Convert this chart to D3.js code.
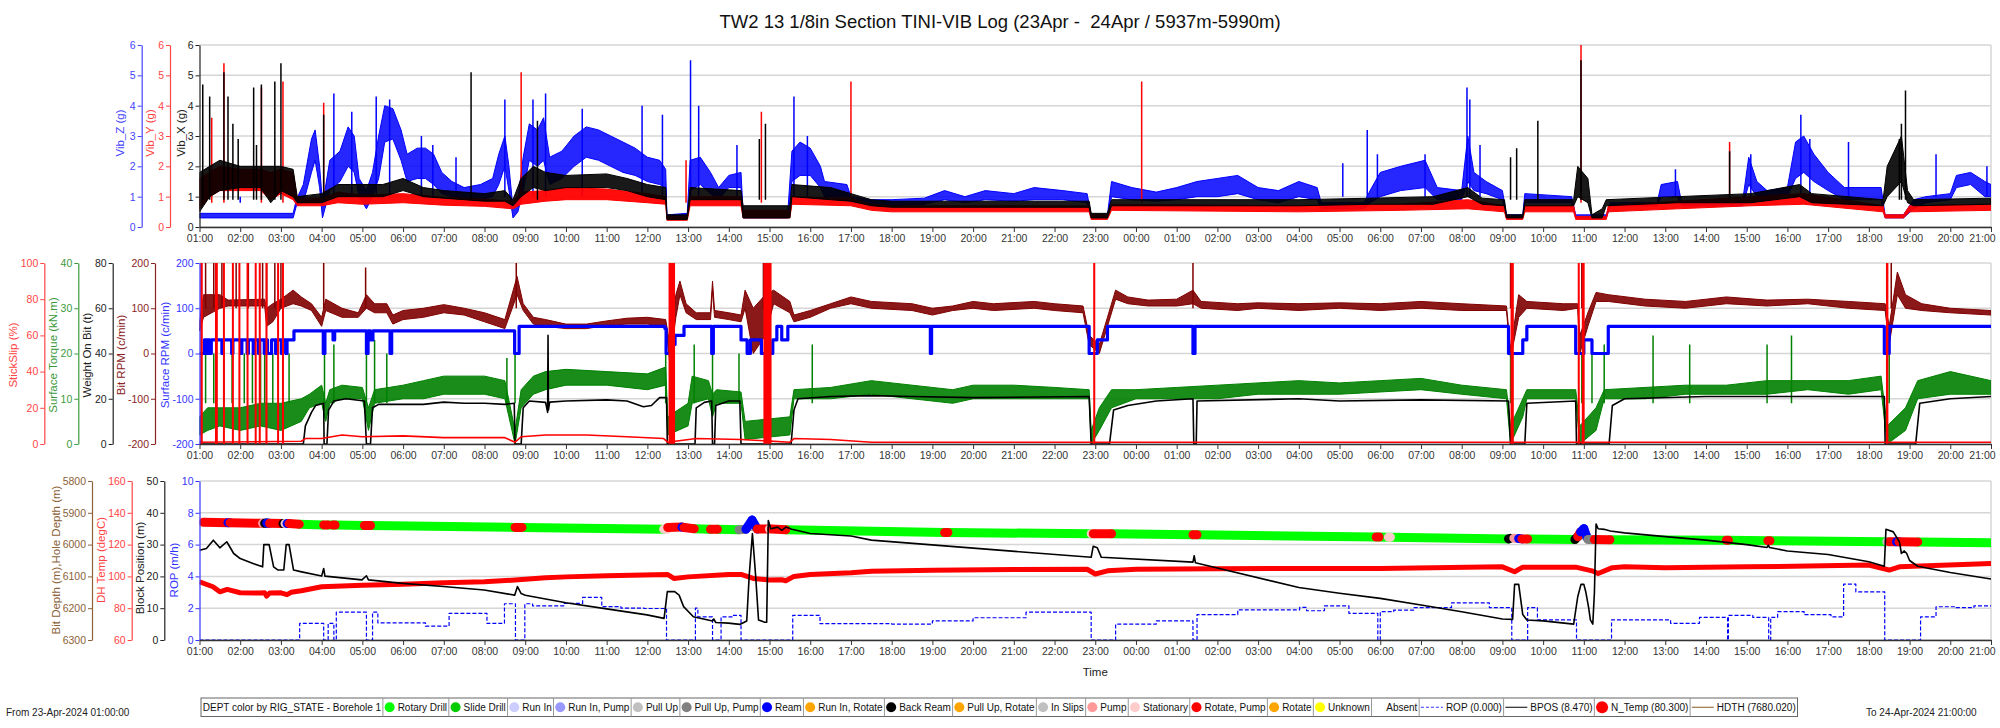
<!DOCTYPE html>
<html><head><meta charset="utf-8">
<script src="https://cdn.jsdelivr.net/npm/d3@7"></script>
<style>
body{margin:0;background:#fff;}
svg{display:block;font-family:"Liberation Sans",Arial,sans-serif;}
</style></head><body>
<svg id="chart" width="2000" height="728"></svg>
<script>
// ================= DATA (hours after 23-Apr-2024 01:00) =================
const titleText = "TW2 13 1/8in Section TINI-VIB Log (23Apr -  24Apr / 5937m-5990m)";
const xTickFormat = "%H:%M";
// ---- top panel: vibration bands [h, low, high] and spikes [h, peak]
const vibZBand = [[0,0.3,0.45],[2.3,0.3,0.45],[2.38,0.7,0.9],[2.55,0.8,1.4],[2.75,1.8,2.9],[2.84,2.2,3.2],[2.95,1.3,2.0],[3.02,0.3,0.8],[3.08,0.6,1.2],[3.2,1.2,2.2],[3.45,1.5,2.5],[3.65,2.0,3.3],[3.8,1.8,3.0],[3.92,1.0,1.6],[4.1,0.6,1.2],[4.25,1.0,1.8],[4.4,1.6,3.0],[4.55,2.8,4.0],[4.75,2.9,3.9],[4.95,2.2,3.2],[5.1,1.5,2.4],[5.35,1.6,2.6],[5.55,1.6,2.6],[5.75,1.4,2.4],[5.95,1.1,1.8],[6.2,1.0,1.5],[6.5,0.9,1.3],[6.9,0.9,1.4],[7.2,1.0,1.6],[7.35,1.4,2.4],[7.5,2.0,3.0],[7.6,1.2,2.0],[7.7,0.3,0.6],[7.82,0.5,0.9],[7.95,1.2,2.3],[8.1,2.2,3.4],[8.3,2.0,3.2],[8.45,2.2,3.6],[8.6,1.4,2.3],[8.9,1.6,2.5],[9.2,2.0,3.0],[9.5,2.3,3.3],[9.8,2.2,3.2],[10.1,2.0,3.0],[10.4,1.8,2.8],[10.7,1.7,2.6],[11.0,1.5,2.3],[11.3,1.4,2.2],[11.45,1.3,1.9],[11.48,0.3,0.4],[11.98,0.3,0.45],[12.05,1.2,2.2],[12.3,1.4,2.3],[12.55,1.1,1.8],[12.75,0.9,1.3],[13.0,1.3,1.7],[13.3,1.3,1.8],[13.35,0.3,0.5],[14.45,0.3,0.5],[14.55,1.5,2.5],[14.75,1.7,2.8],[15.0,1.7,2.6],[15.25,1.3,2.0],[15.35,1.0,1.5],[15.9,1.0,1.4],[16.0,0.8,1.0],[16.5,0.75,0.9],[17,0.7,0.9],[17.8,0.75,0.95],[18.3,0.9,1.2],[18.8,0.8,1.0],[19.3,0.9,1.2],[20,0.85,1.1],[20.5,0.9,1.3],[21.2,0.9,1.2],[21.8,0.8,1.1],[21.9,0.3,0.4],[22.3,0.3,0.4],[22.4,1.0,1.5],[22.9,0.9,1.3],[23.5,0.85,1.15],[24.0,0.9,1.3],[24.5,1.0,1.5],[25.0,1.0,1.6],[25.5,1.1,1.7],[26.0,0.9,1.3],[26.5,0.8,1.2],[27.0,1.0,1.5],[27.45,0.9,1.3],[27.55,0.6,0.8],[28.6,0.6,0.8],[28.75,0.8,1.2],[29.0,1.0,1.8],[29.5,1.2,2.0],[30.1,1.3,2.2],[30.4,0.9,1.3],[31.0,0.9,1.2],[31.15,1.5,3.0],[31.3,1.2,1.8],[31.6,1.1,1.5],[32.0,0.9,1.2],[32.1,0.3,0.4],[32.5,0.3,0.4],[32.55,0.8,1.1],[33.7,0.8,1.0],[33.8,0.3,0.4],[34.55,0.3,0.4],[34.65,0.7,0.8],[35.8,0.7,0.8],[35.9,1.0,1.4],[36.3,1.0,1.5],[36.4,0.7,0.8],[37.9,0.7,0.85],[38.05,1.4,2.3],[38.25,1.0,1.5],[38.5,0.9,1.2],[39.0,1.0,1.3],[39.2,1.6,2.8],[39.4,1.8,3.0],[39.65,1.5,2.4],[40.0,1.2,1.8],[40.4,0.9,1.3],[41.3,0.9,1.3],[41.4,0.3,0.4],[41.85,0.3,0.4],[42.1,0.6,0.9],[42.4,0.8,1.0],[43.0,0.9,1.1],[43.15,1.3,1.7],[43.5,1.4,1.8],[43.85,1.0,1.5],[44,1.0,1.4]];
const vibZSpikes = [[1.0,0.8],[3.3,4.4],[3.74,3.8],[4.34,4.3],[4.67,4.2],[5.45,3.0],[5.73,2.7],[6.3,2.3],[7.5,4.2],[8.19,4.2],[8.5,4.4],[9.4,3.9],[10.87,4.0],[11.37,3.7],[12.06,5.5],[12.26,4.0],[13.2,2.7],[14.6,4.3],[14.93,3.0],[28.08,2.1],[28.68,3.2],[28.93,2.4],[30.1,2.4],[31.13,4.6],[31.2,4.2],[31.45,2.7],[36.25,1.9],[38.1,2.4],[39.33,3.7],[39.55,2.9],[40.5,2.8],[42.65,2.4],[43.9,2.0]];
const vibYBand = [[0,0.6,1.6],[0.25,1.0,1.8],[0.5,1.2,2.0],[1.0,1.2,1.9],[1.5,1.2,1.9],[1.75,0.9,1.8],[2.0,1.1,1.9],[2.3,0.9,1.8],[2.4,0.7,0.95],[3.0,0.7,0.95],[3.4,0.8,1.15],[4.0,0.75,1.05],[5.0,0.8,1.1],[6.0,0.72,0.98],[7.0,0.68,0.92],[7.7,0.6,0.85],[7.9,0.75,1.15],[8.5,0.85,1.2],[9.0,0.9,1.3],[10.0,0.9,1.25],[11.0,0.8,1.1],[11.45,0.75,1.0],[11.48,0.22,0.35],[11.98,0.22,0.35],[12.05,0.7,1.0],[13.3,0.7,1.0],[13.35,0.3,0.55],[14.5,0.3,0.55],[14.55,0.75,1.0],[16.0,0.7,0.95],[16.5,0.55,0.75],[17,0.5,0.7],[21.85,0.5,0.7],[21.9,0.25,0.4],[22.3,0.25,0.4],[22.4,0.55,0.75],[27,0.5,0.7],[29.5,0.55,0.75],[31.15,0.6,0.9],[32.05,0.5,0.7],[32.1,0.25,0.35],[32.5,0.25,0.35],[32.55,0.5,0.7],[33.75,0.5,0.7],[33.8,0.25,0.35],[34.55,0.25,0.35],[34.6,0.5,0.7],[36.3,0.6,0.85],[38.1,0.7,1.0],[39.4,0.75,1.1],[41.35,0.5,0.7],[41.4,0.3,0.4],[41.85,0.3,0.4],[42.0,0.5,0.7],[44,0.55,0.75]];
const vibYSpikes = [[0.3,3.6],[0.6,5.4],[1.52,4.6],[2.05,4.8],[3.05,4.1],[7.9,5.1],[11.95,2.2],[13.8,3.8],[16.0,4.8],[23.14,4.8],[33.93,6.0],[37.58,2.8]];
const vibXBand = [[0,0.5,1.8],[0.25,1.0,2.0],[0.5,1.2,2.2],[1.0,1.3,2.0],[1.5,1.3,2.0],[1.75,0.8,2.0],[2.0,1.2,2.0],[2.3,1.0,1.9],[2.4,0.8,1.0],[3.0,0.8,1.1],[3.4,1.0,1.4],[4.0,1.0,1.4],[4.5,1.0,1.4],[5.0,1.2,1.6],[5.5,1.0,1.3],[6.0,0.95,1.2],[7.0,0.85,1.1],[7.5,0.85,1.2],[7.7,0.7,0.9],[7.9,1.0,1.6],[8.2,1.3,2.0],[8.5,1.2,1.8],[9.0,1.3,1.7],[10.0,1.3,1.75],[10.5,1.2,1.6],[11.0,1.0,1.4],[11.45,0.9,1.3],[11.48,0.25,0.4],[11.98,0.25,0.4],[12.05,0.9,1.3],[13.3,0.9,1.2],[13.35,0.3,0.7],[14.5,0.3,0.7],[14.55,1.0,1.4],[15.5,0.9,1.3],[16.0,0.85,1.1],[16.5,0.7,0.9],[17,0.65,0.85],[21.85,0.65,0.85],[21.9,0.3,0.45],[22.3,0.3,0.45],[22.4,0.7,0.9],[27,0.7,0.9],[28.8,0.75,0.95],[30.3,0.75,1.0],[31.15,1.0,1.3],[31.5,0.75,0.95],[32.05,0.7,0.9],[32.1,0.3,0.4],[32.5,0.3,0.4],[32.55,0.7,0.9],[33.75,0.7,0.9],[33.85,1.0,2.0],[34.1,0.8,1.6],[34.2,0.3,0.4],[34.45,0.3,0.6],[34.55,0.7,0.9],[36.3,0.8,1.0],[38.1,0.8,1.1],[39.3,1.0,1.4],[39.6,0.8,1.1],[41.35,0.7,0.9],[41.45,1.0,2.0],[41.8,1.5,3.0],[41.95,0.8,1.2],[42.1,0.7,0.9],[44,0.75,0.95]];
const vibXSpikes = [[0.08,4.7],[0.25,4.3],[0.6,5.1],[0.7,4.3],[0.82,3.4],[0.95,2.9],[1.33,4.6],[1.4,2.7],[1.52,4.7],[1.85,4.8],[2.0,5.4],[3.05,3.7],[6.67,5.1],[8.3,3.5],[13.75,2.9],[13.9,3.4],[32.2,2.3],[32.35,2.6],[32.87,3.5],[33.93,5.5],[37.58,2.5],[41.75,2.9],[41.8,3.4],[41.9,4.5]];
// ---- middle panel
const bitRpmBand = [[0,50,70],[0.1,80,130],[0.5,100,130],[0.7,105,118],[1.6,105,120],[1.65,60,100],[1.8,70,110],[2.0,100,120],[2.3,110,140],[2.5,105,125],[2.75,95,110],[3.0,60,80],[3.1,95,120],[3.5,80,100],[3.9,80,90],[4.1,100,130],[4.3,90,110],[4.6,90,110],[4.75,65,85],[5.0,75,95],[5.5,80,100],[6.0,90,108],[6.5,85,100],[7.0,70,90],[7.5,55,75],[7.8,130,170],[7.95,95,110],[8.2,65,80],[8.5,60,75],[9.0,55,65],[9.5,55,65],[10.0,62,72],[10.5,65,78],[11.0,65,80],[11.45,60,75],[11.55,-20,20],[11.7,80,130],[11.8,130,160],[11.95,90,110],[12.2,75,90],[12.55,75,90],[12.6,140,160],[12.65,80,95],[13.0,75,90],[13.3,70,85],[13.4,100,140],[13.6,0,100],[13.9,40,130],[14.1,110,140],[14.5,90,115],[14.6,70,85],[15.0,80,95],[15.5,100,110],[16.0,110,125],[16.5,100,115],[17.5,95,110],[18.0,85,100],[18.5,95,105],[19.0,100,115],[19.5,95,110],[20.5,100,115],[21.0,95,110],[21.7,90,105],[21.85,20,40],[22.1,0,20],[22.3,60,80],[22.5,120,140],[22.8,110,125],[23.3,105,118],[24.0,105,120],[24.4,110,140],[24.6,100,115],[25.5,95,110],[26.0,100,112],[27.0,95,110],[28.0,100,112],[29.0,95,110],[30.0,100,115],[31.0,95,110],[32.1,95,105],[32.2,-10,10],[32.4,80,130],[32.6,100,115],[33.5,95,110],[33.85,100,110],[33.9,0,40],[34.1,60,90],[34.3,115,135],[34.6,115,130],[35.5,105,120],[36.5,100,115],[37.5,110,125],[38.5,105,118],[39.5,110,120],[40.5,100,115],[41.4,95,110],[41.5,20,60],[41.7,130,180],[41.9,100,130],[42.3,95,110],[43.0,90,100],[44.0,85,95]];
const bitRpmSpikes = [[0.15,200],[0.35,200],[0.55,200],[0.9,200],[1.2,200],[1.55,200],[1.65,200],[1.85,200],[2.0,200],[3.05,200],[4.08,190],[7.78,200],[11.55,200],[13.85,200],[24.4,200],[32.2,200],[33.95,200],[41.55,200]];
const torqueBand = [[0,2,6],[0.2,3,8],[0.5,4,8],[1.0,3,8],[1.5,4,9],[2.0,3,9],[2.5,5,10],[2.7,8,11],[3.0,9,13],[3.1,5,9],[3.2,9,12],[3.5,10,13],[4.0,10,12.5],[4.15,3,8],[4.3,9,12],[5.0,10,13],[5.5,10,14],[6.0,11,15],[7.0,11,15],[7.5,10,14],[7.75,0,3],[7.9,8,12],[8.2,11,15],[8.5,12,16],[9.0,13,16.5],[10.0,13,16],[11.0,12,15.5],[11.45,13,17],[11.5,2,6],[12.0,4,9],[12.1,9,15],[12.5,10,14],[12.6,6,11],[12.7,9,12],[13.3,9,11.5],[13.4,1,5],[14.5,2,6],[14.6,10,12],[15.5,10,12.5],[16.5,11,14],[17.5,10,13],[18.5,9,12],[19.0,10,13],[20.0,10,13],[21.0,10,12.5],[21.85,10,12],[21.9,0,3],[22.1,3,8],[22.4,8,12],[23.0,10,12],[24.0,10,12.5],[25.0,10,13],[26.0,11,13.5],[27.0,11,14],[28.0,11,13.5],[29.0,11.5,14],[30.0,12,14.5],[31.0,11,13],[32.1,10,12],[32.2,0,4],[32.5,6,10],[32.6,10,12],[33.8,10,12],[33.9,0,4],[34.3,3,8],[34.5,10,12],[35.5,10,12.5],[36.5,11,13],[37.5,11,13],[38.5,11,14],[39.5,12,14],[40.5,11,14],[41.3,12,15],[41.45,0,4],[41.9,3,8],[42.2,10,14],[43.0,11,16],[44.0,11,14]];
const torqueSpikes = [[0.15,20],[0.35,20],[0.6,20],[0.8,20],[1.1,20],[1.3,20],[1.5,20],[1.6,20],[1.8,20],[2.2,20],[3.07,20],[3.3,22],[4.1,20],[4.3,23],[4.6,20],[7.55,19],[7.75,20],[11.45,23],[12.15,22],[12.6,20],[13.25,20],[15.05,22],[32.2,20],[33.95,20],[34.2,22],[34.5,22],[35.7,24],[36.6,22],[38.5,22],[39.1,24],[41.5,20]];
const wob = [[0,0],[2.55,0],[2.6,8],[2.65,10],[2.75,14],[2.85,17],[3.05,18],[3.06,0],[3.13,0],[3.17,15],[3.3,19],[3.6,20],[4.05,19],[4.1,0],[4.2,0],[4.25,16],[4.4,17.5],[5.0,17.5],[5.5,17.5],[6.0,18.5],[6.5,18],[7.0,18],[7.5,17.5],[7.73,18],[7.75,0],[7.9,0],[7.95,16],[8.1,19],[8.5,18.4],[8.55,14],[8.56,48],[8.57,15],[8.6,18.5],[9.0,19],[10.0,19.5],[10.5,19],[10.9,16.5],[11.1,17],[11.3,20.5],[11.47,20.5],[11.49,0],[12.17,0],[12.2,16],[12.4,18.4],[12.58,19],[12.6,0],[12.65,0],[12.68,17],[13.0,19],[13.27,19],[13.3,0],[14.53,0],[14.6,15],[14.7,20],[15.5,21],[16.5,21.4],[17.5,21],[19,20.5],[21.85,21],[21.9,0],[22.35,0],[22.45,15],[22.8,17],[23.5,19],[24.4,20],[24.42,0],[24.48,0],[24.5,19],[27,20],[28,19],[30,19.5],[32.15,19],[32.2,0],[32.55,0],[32.6,18],[33.8,19],[33.82,0],[34.62,0],[34.7,17],[35,20],[37,21],[39,21],[41.38,21],[41.4,0],[42.15,0],[42.25,18],[43,20],[44,21]];
const surfRpm = [[0,0],[0.12,30],[0.17,0],[0.2,30],[0.25,0],[0.29,30],[0.55,0],[0.58,30],[0.79,0],[0.82,30],[1.01,0],[1.04,30],[1.17,0],[1.2,30],[1.32,0],[1.35,30],[1.45,0],[1.48,30],[1.59,0],[1.62,30],[1.67,0],[1.77,30],[1.87,0],[1.9,30],[2.01,0],[2.04,30],[2.12,0],[2.15,30],[2.32,50],[3.04,0],[3.08,50],[3.28,30],[3.32,50],[4.1,0],[4.14,50],[4.2,30],[4.26,50],[4.68,0],[4.72,50],[7.74,0],[7.85,60],[11.43,55],[11.46,0],[11.62,20],[11.68,40],[11.9,60],[12.58,0],[12.62,60],[13.3,30],[13.45,0],[13.53,30],[13.8,0],[14.08,30],[14.18,60],[14.3,30],[14.45,60],[17.95,0],[17.98,60],[21.85,0],[22.05,30],[22.3,60],[24.4,0],[24.45,60],[32.15,0],[32.5,30],[32.6,60],[33.8,0],[34.0,30],[34.2,0],[34.6,60],[41.38,0],[41.5,60],[44,60]];
const stickBase = [[0,1],[2.5,1.5],[2.6,3],[3.0,3],[3.5,5],[4.0,4],[5.0,4.5],[6.0,3.5],[7.5,3.5],[7.75,1],[7.9,4],[8.5,5],[9.5,5],[10.5,4],[11.4,3],[11.5,1],[12.2,3],[13.3,2.5],[14.5,1],[14.6,3],[15.5,2.5],[16.5,1],[44,1]];
const stickBars = [[0.02,0.08],[0.38,0.45],[1.62,1.67],[11.52,11.68],[13.85,14.05],[21.95,22.0],[32.2,32.28],[33.85,33.9],[33.95,34.02],[41.42,41.48]];
const stickSpikes = [0.6,0.82,0.98,1.18,1.38,1.48,1.93,2.05];
// ---- bottom panel
const rigStates = ["Rotary Drill","Slide Drill","Run In","Run In, Pump","Pull Up","Pull Up, Pump","Ream","Run In, Rotate","Back Ream","Pull Up, Rotate","In Slips","Pump","Stationary","Rotate, Pump","Rotate","Unknown","Absent"];
const rigColors = ["#00ff00","#00cc00","#ccccff","#9999ff","#c0c0c0","#808080","#0000ff","#ffa500","#000000","#ffa500","#c0c0c0","#ff9999","#ffcccc","#ff0000","#ffa500","#ffff00",null];
// [h0, h1, depth0, depth1, state]
const deptSegs = [[0,0.1,5929,5930,"Stationary"],[0.1,0.7,5930,5931,"Rotate, Pump"],[0.7,0.75,5931,5931,"Ream"],[0.75,1.55,5931,5933,"Rotate, Pump"],[1.55,1.6,5933,5933,"Pump"],[1.6,1.65,5933,5932,"Back Ream"],[1.65,1.72,5932,5933,"Ream"],[1.72,2.05,5933,5934,"Rotate, Pump"],[2.05,2.1,5934,5934,"Back Ream"],[2.1,2.15,5934,5934,"Stationary"],[2.15,2.2,5934,5934,"Ream"],[2.2,2.45,5934,5936,"Rotate, Pump"],[2.45,3.05,5936,5938,"Rotary Drill"],[3.05,3.15,5938,5938,"Rotate, Pump"],[3.15,3.28,5938,5938.5,"Rotary Drill"],[3.28,3.33,5938.5,5938.5,"Rotate, Pump"],[3.33,4.05,5938.5,5940,"Rotary Drill"],[4.05,4.2,5940,5940,"Rotate, Pump"],[4.2,7.75,5940,5946,"Rotary Drill"],[7.75,7.92,5946,5946,"Rotate, Pump"],[7.92,11.4,5946,5951.5,"Rotary Drill"],[11.4,11.5,5951.5,5951.5,"Stationary"],[11.5,11.85,5946,5945,"Rotate, Pump"],[11.85,11.9,5945,5946,"Ream"],[11.9,12.15,5946,5950,"Rotate, Pump"],[12.15,12.55,5950,5952,"Rotary Drill"],[12.55,12.72,5952,5952,"Rotate, Pump"],[12.72,13.25,5952,5953,"Rotary Drill"],[13.25,13.42,5953,5952,"Pull Up, Pump"],[13.42,13.57,5952,5923,"Ream"],[13.57,13.7,5923,5951,"Ream"],[13.7,14.0,5951,5951,"Rotate, Pump"],[14.0,14.05,5951,5951,"Stationary"],[14.05,14.4,5951,5953,"Rotate, Pump"],[14.4,18.3,5953,5962,"Rotary Drill"],[18.3,18.38,5962,5962,"Rotate, Pump"],[18.38,21.9,5962,5966,"Rotary Drill"],[21.9,21.95,5966,5966,"Stationary"],[21.95,22.4,5966,5966,"Rotate, Pump"],[22.4,24.4,5966,5969,"Rotary Drill"],[24.4,24.5,5969,5969,"Rotate, Pump"],[24.5,28.9,5969,5976,"Rotary Drill"],[28.9,28.97,5976,5976,"Rotate, Pump"],[28.97,29.2,5976,5976.5,"Rotary Drill"],[29.2,29.25,5976.5,5976.5,"Stationary"],[29.25,32.15,5976.5,5982,"Rotary Drill"],[32.15,32.2,5982,5980,"Back Ream"],[32.28,32.36,5980,5981,"Pump"],[32.4,32.48,5981,5982,"Ream"],[32.48,32.62,5982,5982,"Rotate, Pump"],[32.62,33.78,5982,5984,"Rotary Drill"],[33.78,33.85,5984,5975,"Back Ream"],[33.85,33.92,5975,5960,"Rotate, Pump"],[33.92,34.0,5960,5950,"Ream"],[34.0,34.08,5950,5978,"Ream"],[34.1,34.2,5984,5984,"Pull Up, Pump"],[34.26,34.64,5984,5984.5,"Rotate, Pump"],[34.64,37.5,5984.5,5986,"Rotary Drill"],[37.5,37.55,5986,5986,"Rotate, Pump"],[37.55,38.52,5986,5988,"Rotary Drill"],[38.52,38.57,5988,5988,"Rotate, Pump"],[38.57,41.44,5988,5991,"Rotary Drill"],[41.44,41.5,5991,5991,"Pull Up"],[41.5,41.68,5991,5991,"Rotate, Pump"],[41.68,41.74,5991,5991,"Ream"],[41.74,42.2,5991,5991.5,"Rotate, Pump"],[42.2,44,5991.5,5994,"Rotary Drill"]];
const holeDepth = [[0,5937],[2.45,5937],[16.5,5959],[27,5973.6],[44,5994]];
const dhTemp = [[0,96.6],[0.33,93.5],[0.5,90.3],[0.68,91.8],[1.0,89.7],[1.5,89.5],[1.6,89.7],[1.65,87.6],[1.72,89.5],[2.0,89.7],[2.15,88.5],[2.25,90],[2.5,91],[3.0,93.5],[4.0,94.5],[5.0,95.1],[6.0,96],[7.0,96.6],[7.75,97.7],[8.5,99.1],[9.0,99.7],[10.0,100.4],[11.5,101.2],[11.65,98.7],[12.0,99.7],[13.0,101.2],[13.3,101.2],[13.6,98.7],[14.0,97.7],[14.3,97.9],[14.4,97.3],[14.6,100],[15.0,101.2],[16.0,102.3],[16.5,103.3],[18,103.8],[20,104.3],[21.8,104.5],[22.0,101.5],[22.3,103.5],[23,104.5],[25,104.8],[27,105],[29,105],[32.0,106],[32.3,102.9],[32.5,105.8],[33.8,105.8],[34.2,103.5],[34.35,101.8],[34.7,105.5],[35.0,106],[36,105.5],[38,106],[41,107.1],[41.5,104],[41.75,106],[44,108.1]];
const bpos = [[0,28.2],[0.17,28.8],[0.34,31.4],[0.5,29],[0.67,30.9],[0.84,27.2],[1.0,25.6],[1.33,24],[1.55,23],[1.58,30],[1.71,30],[1.82,23],[1.93,22],[2.07,22],[2.13,30],[2.2,30],[2.31,22],[2.48,21.5],[3.0,20.1],[3.05,22.5],[3.08,20.1],[3.99,18.9],[4.1,20.2],[4.15,18.9],[4.99,17.8],[5.99,16.8],[6.99,15.7],[7.74,14.1],[7.81,16.8],[7.9,14.6],[8.0,14.1],[9.0,11.7],[10.0,9.8],[10.99,7.9],[11.41,6.8],[11.49,15.2],[11.67,15.2],[11.78,14.1],[11.89,10.5],[12.13,7.3],[12.6,6.0],[12.63,6.6],[12.68,5.5],[12.99,5.3],[13.27,4.9],[13.44,6],[13.5,20],[13.58,33.5],[13.66,20],[13.73,6.3],[13.88,5.6],[13.93,5.6],[13.97,37.6],[14.03,35],[14.2,35.5],[14.3,34.5],[14.4,35.5],[14.55,34.8],[15.0,33.5],[16.0,32.7],[16.5,31.4],[21.9,26],[21.95,29.5],[22.05,29.0],[22.15,26],[24.4,24.5],[24.43,26.5],[24.46,24.3],[27.0,16.5],[28,14.7],[29,13.1],[30,11],[31,8.9],[32.0,6.6],[32.25,6.5],[32.3,17.5],[32.4,17.5],[32.5,8],[32.6,6.3],[33.0,6.0],[33.75,5.0],[33.85,13.6],[33.93,17.5],[34.0,17.5],[34.05,15],[34.12,10],[34.16,6.3],[34.22,5.0],[34.26,15],[34.3,36.5],[34.35,35],[34.5,34.8],[34.65,34.3],[35,33.7],[36,32.5],[37,31.4],[38,30],[38.5,29.1],[38.53,29.8],[38.56,29.1],[39,28],[40,26.9],[41,24.6],[41.38,23.2],[41.42,34.8],[41.6,34],[41.75,30.9],[41.8,27.2],[41.87,28],[41.93,27.2],[42.0,25],[42.2,23.2],[43,21.2],[44,19.2]];
const rop = [[0,0],[2.46,1.05],[3.05,0],[3.16,1.05],[3.3,0],[3.36,1.75],[4.1,0],[4.25,1.75],[4.38,1.08],[5.55,0.87],[6.13,1.68],[7.06,1.05],[7.49,2.28],[7.76,0],[7.99,2.28],[8.18,2.15],[8.95,2.3],[9.41,2.68],[9.88,2.1],[10.35,2.0],[10.92,1.98],[11.47,0],[12.18,2.0],[12.24,1.45],[12.6,0],[12.81,1.45],[13.08,1.55],[13.3,0],[14.57,1.55],[15.24,1.03],[17.0,1.0],[18.0,1.2],[19.0,1.4],[20.3,1.75],[21.9,0],[22.5,1.0],[23.5,1.2],[24.4,0],[24.5,1.6],[25.5,1.9],[27.02,2.05],[27.19,1.84],[27.63,2.15],[28.23,1.68],[28.94,0],[29.0,1.78],[29.33,1.88],[29.82,2.03],[30.75,2.34],[31.68,2.03],[32.23,0],[32.62,2.03],[32.86,1.26],[33.82,0],[34.68,1.26],[36.13,1.05],[36.84,1.42],[37.53,0],[37.55,1.55],[38.15,1.42],[38.54,0],[38.59,1.42],[38.76,1.78],[39.41,1.59],[40.07,1.46],[40.38,3.51],[40.68,3.03],[41.39,0],[42.27,1.46],[42.65,2.09],[43.14,2.03],[43.58,2.15],[44,2.15]];
const seriesLegend = [["line-dash","#3333ff","ROP (0.000)"],["line","#000000","BPOS (8.470)"],["bigcircle","#ff0000","N_Temp (80.300)"],["line","#8b5a2b","HDTH (7680.020)"]];
const legendTitle = "DEPT color by RIG_STATE - Borehole 1";
const fromText = "From 23-Apr-2024 01:00:00", toText = "To 24-Apr-2024 21:00:00";

// ================= DRAWING =================
const X0=199.5, X1=1991;
const t0=Date.UTC(2024,3,23,1,0,0);
const T=h=>new Date(t0+h*3600000);
const x=d3.scaleUtc().domain([T(0),T(44)]).range([X0,X1]);
const svg=d3.select('#chart');
const FF='"Liberation Sans",Arial,sans-serif';
const FS=10.5;
const P1={top:45,bot:227}, P2={top:263,bot:444}, P3={top:481,bot:640};

const defs=svg.append('defs');
[P1,P2,P3].forEach((P,i)=>{defs.append('clipPath').attr('id','clip'+i).append('rect').attr('x',X0).attr('y',P.top-1).attr('width',X1-X0).attr('height',P.bot-P.top+1);});

function grid(P,yMain,ticks){
  svg.append('g').selectAll('line').data(ticks).join('line')
    .attr('x1',X0).attr('x2',X1).attr('y1',d=>yMain(d)).attr('y2',d=>yMain(d))
    .attr('stroke','#d6d6d6').attr('stroke-width',1.5);
  svg.append('line').attr('x1',X1).attr('x2',X1).attr('y1',P.top).attr('y2',P.bot).attr('stroke','#d6d6d6').attr('stroke-width',1.5);
}
function xAxis(P){
  const g=svg.append('g').attr('transform',`translate(0,${P.bot})`)
   .call(d3.axisBottom(x).ticks(d3.utcHour.every(1)).tickFormat(d3.utcFormat(xTickFormat)).tickSize(5).tickSizeOuter(0));
  g.attr('font-family',FF).attr('font-size',FS);
  g.select('.domain').attr('stroke','#333').attr('stroke-width',1.3);
  g.selectAll('.tick line').attr('stroke','#333');
  g.selectAll('text').attr('fill','#333');
  const tk=g.selectAll('.tick text').nodes();
  d3.select(tk[tk.length-1]).attr('dx',-9);
}
function yAxis(xpos,scale,ticks,color,label,lx,ly){
  const g=svg.append('g').attr('transform',`translate(${xpos},0)`)
   .call(d3.axisLeft(scale).tickValues(ticks).tickSize(4).tickPadding(2).tickSizeOuter(0).tickFormat(d=>String(d)));
  g.attr('font-family',FF).attr('font-size',FS);
  g.select('.domain').attr('stroke',color).attr('stroke-width',1.2);
  g.selectAll('.tick line').attr('stroke',color);
  g.selectAll('text').attr('fill',color);
  svg.append('text').attr('transform',`translate(${lx},${ly}) rotate(-90)`).attr('text-anchor','middle')
   .attr('dy','0.35em').attr('fill',color).attr('font-size',11.5).text(label);
}
function band(g,data,y,color,op){
  const ar=d3.area().x(d=>x(T(d[0]))).y0(d=>y(d[1])).y1(d=>y(d[2]));
  g.append('path').datum(data).attr('d',ar).attr('fill',color).attr('fill-opacity',op)
   .attr('stroke',color).attr('stroke-width',1).attr('stroke-linejoin','round');
}
function spikes(g,data,y,color,base,w){
  g.append('g').selectAll('line').data(data).join('line')
   .attr('x1',d=>x(T(d[0]))).attr('x2',d=>x(T(d[0])))
   .attr('y1',y(base)).attr('y2',d=>y(d[1])).attr('stroke',color).attr('stroke-width',w);
}
function line(g,data,y,color,w,curve,dash){
  const ln=d3.line().x(d=>x(T(d[0]))).y(d=>y(d[1])).curve(curve||d3.curveLinear);
  const p=g.append('path').datum(data).attr('d',ln).attr('fill','none').attr('stroke',color).attr('stroke-width',w).attr('stroke-linejoin','round');
  if(dash) p.attr('stroke-dasharray',dash);
  return p;
}

// ---------- Title
svg.append('text').attr('x',1000).attr('y',27.5).attr('text-anchor','middle').attr('font-size',18.5)
  .attr('fill','#111').style('white-space','pre').text(titleText);

// ---------- TOP PANEL
const yV=d3.scaleLinear().domain([0,6]).range([P1.bot,P1.top]);
const vibTicks=[0,1,2,3,4,5,6];
grid(P1,yV,vibTicks);
const g1=svg.append('g').attr('clip-path','url(#clip0)');
band(g1,vibZBand,yV,'#0000ff',0.85); spikes(g1,vibZSpikes,yV,'#0000ff',1.0,1.5);
band(g1,vibYBand,yV,'#ff0000',0.95); spikes(g1,vibYSpikes,yV,'#ff0000',0.8,1.5);
band(g1,vibXBand,yV,'#000000',0.9); spikes(g1,vibXSpikes,yV,'#000000',0.9,1.5);
yAxis(141.7,yV,vibTicks,'#4444ff','Vib_Z (g)',120,133);
yAxis(170,yV,vibTicks,'#ff4444','Vib_Y (g)',150,133);
yAxis(X0,yV,vibTicks,'#222222','Vib_X (g)',181,133);
xAxis(P1);

// ---------- MIDDLE PANEL
const yS=d3.scaleLinear().domain([-200,200]).range([P2.bot,P2.top]);
const yTq=d3.scaleLinear().domain([0,40]).range([P2.bot,P2.top]);
const yW=d3.scaleLinear().domain([0,80]).range([P2.bot,P2.top]);
const ySS=d3.scaleLinear().domain([0,100]).range([P2.bot,P2.top]);
const rpmTicks=[-200,-100,0,100,200];
grid(P2,yS,rpmTicks);
const g2=svg.append('g').attr('clip-path','url(#clip1)');
band(g2,bitRpmBand,yS,'#800000',0.9); spikes(g2,bitRpmSpikes,yS,'#800000',100,1.5);
band(g2,torqueBand,yTq,'#008000',0.9); spikes(g2,torqueSpikes,yTq,'#008000',9,1.5);
line(g2,wob,yW,'#000000',1.6);
line(g2,surfRpm,yS,'#0000ff',3.2,d3.curveStepAfter);
line(g2,stickBase,ySS,'#ff0000',1.6);
g2.append('g').selectAll('rect').data(stickBars).join('rect')
  .attr('x',d=>x(T(d[0]))).attr('width',d=>Math.max(2,x(T(d[1]))-x(T(d[0]))))
  .attr('y',P2.top).attr('height',P2.bot-P2.top).attr('fill','#ff0000');
g2.append('g').selectAll('line').data(stickSpikes).join('line')
  .attr('x1',d=>x(T(d))).attr('x2',d=>x(T(d))).attr('y1',ySS(0)).attr('y2',ySS(100))
  .attr('stroke','#ff0000').attr('stroke-width',2);
yAxis(44.3,ySS,[0,20,40,60,80,100],'#ff4444','StickSlip (%)',13,355);
yAxis(78.3,yTq,[0,10,20,30,40],'#3c9a3c','Surface Torque (kN.m)',53,355);
yAxis(112.7,yW,[0,20,40,60,80],'#222222','Weight On Bit (t)',87,355);
yAxis(155,yS,rpmTicks,'#8b2222','Bit RPM (c/min)',121,355);
yAxis(X0,yS,rpmTicks,'#3333ff','Surface RPM (c/min)',165,355);
xAxis(P2);

// ---------- BOTTOM PANEL
const yR=d3.scaleLinear().domain([0,10]).range([P3.bot,P3.top]);
const yD=d3.scaleLinear().domain([5800,6300]).range([P3.top,P3.bot]);
const yT=d3.scaleLinear().domain([60,160]).range([P3.bot,P3.top]);
const yB=d3.scaleLinear().domain([0,50]).range([P3.bot,P3.top]);
const ropTicks=[0,2,4,6,8,10];
grid(P3,yR,ropTicks);
const g3=svg.append('g').attr('clip-path','url(#clip2)');
line(g3,rop,yR,'#0000ff',1.2,d3.curveStepAfter,'4,2');
line(g3,holeDepth,yD,'#8b5a2b',1);
const stateColor=s=>rigColors[rigStates.indexOf(s)];
const segOrder=deptSegs.slice().sort((a,b)=>(a[4]==="Rotary Drill"?0:1)-(b[4]==="Rotary Drill"?0:1));
g3.append('g').selectAll('line').data(segOrder).join('line')
  .attr('x1',d=>x(T(d[0]))).attr('x2',d=>x(T(d[1]))).attr('y1',d=>yD(d[2])).attr('y2',d=>yD(d[3]))
  .attr('stroke',d=>stateColor(d[4])).attr('stroke-width',9).attr('stroke-linecap','round');
line(g3,dhTemp,yT,'#ff0000',5);
line(g3,bpos,yB,'#000000',1.6);
yAxis(92,yD,[5800,5900,6000,6100,6200,6300],'#8b6239','Bit Depth (m),Hole Depth (m)',56,560);
yAxis(131.7,yT,[60,80,100,120,140,160],'#ff4444','DH Temp (degC)',101,560);
yAxis(164.3,yB,[0,10,20,30,40,50],'#222222','Block Position (m)',139.5,568);
yAxis(X0,yR,ropTicks,'#3333ff','ROP (m/h)',174,570);
xAxis(P3);
svg.append('text').attr('x',(X0+X1)/2).attr('y',676).attr('text-anchor','middle').attr('font-size',11.5).attr('fill','#222').text('Time');

// ---------- footer
svg.append('text').attr('x',6).attr('y',715.5).attr('font-size',10).attr('fill','#222').text(fromText);
svg.append('text').attr('x',1866).attr('y',715.5).attr('font-size',10).attr('fill','#222').text(toText);

// ---------- legend
const LX0=201, LX1=1797.5, LY0=698, LY1=716.5, LYC=(LY0+LY1)/2, LF=10;
const lg=svg.append('g').attr('font-size',LF);
const items=[{text:legendTitle,sym:null}]
  .concat(rigStates.map((s,i)=>({text:s,sym:rigColors[i]?'circle':'blank',color:rigColors[i]})))
  .concat(seriesLegend.map(d=>({text:d[2],sym:d[0],color:d[1]})));
const tmp=lg.append('text');
items.forEach(it=>{tmp.text(it.text); it.tw=tmp.node().getComputedTextLength();
  it.sw = (it.sym==='circle'||it.sym==='blank')?13:(it.sym==='bigcircle')?15:(it.sym&&it.sym.startsWith('line'))?25:0;
  it.w=it.tw+it.sw;});
tmp.remove();
const pad=(LX1-LX0-d3.sum(items,d=>d.w))/items.length;
lg.append('rect').attr('x',LX0).attr('y',LY0).attr('width',LX1-LX0).attr('height',LY1-LY0)
  .attr('fill','#fff').attr('stroke','#666').attr('stroke-width',1);
let cx=LX0;
items.forEach((it,i)=>{
  const sx=cx+pad/2;
  if(it.sym==='circle') lg.append('circle').attr('cx',sx+5).attr('cy',LYC).attr('r',5).attr('fill',it.color);
  if(it.sym==='bigcircle') lg.append('circle').attr('cx',sx+6).attr('cy',LYC).attr('r',6).attr('fill',it.color);
  if(it.sym==='line'||it.sym==='line-dash'){
    const l=lg.append('line').attr('x1',sx).attr('x2',sx+22).attr('y1',LYC).attr('y2',LYC).attr('stroke',it.color).attr('stroke-width',1);
    if(it.sym==='line-dash') l.attr('stroke-dasharray','3,2');
  }
  lg.append('text').attr('x',sx+it.sw).attr('y',LYC).attr('dy','0.35em').attr('fill','#111').text(it.text);
  cx+=it.w+pad;
  if(i<items.length-1) lg.append('line').attr('x1',cx).attr('x2',cx).attr('y1',LY0).attr('y2',LY1).attr('stroke','#999');
});
</script></body></html>
